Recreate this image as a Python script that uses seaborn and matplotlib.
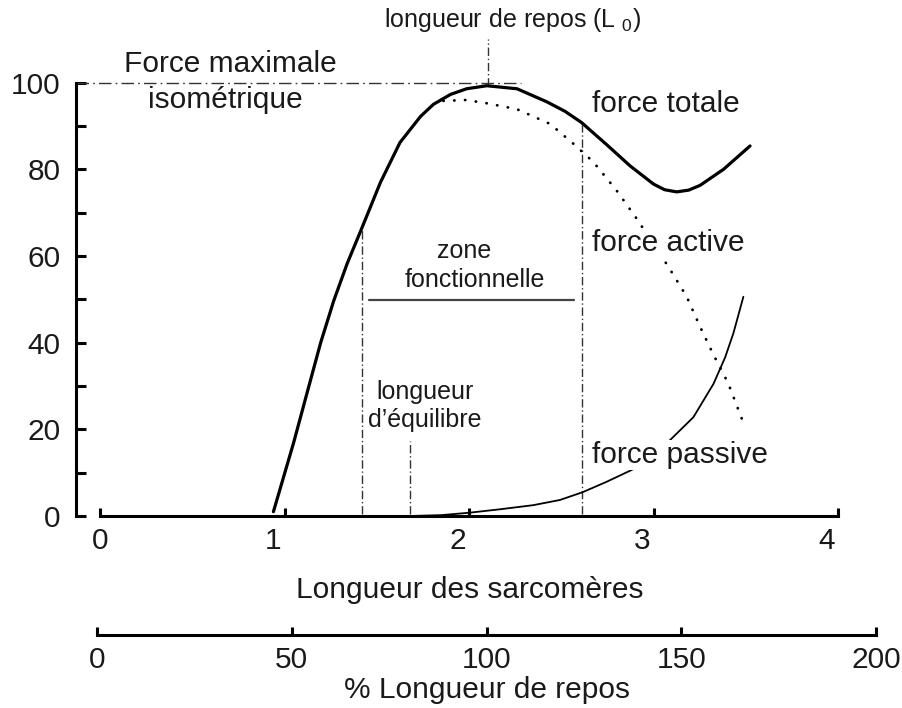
import matplotlib
matplotlib.use("Agg")
import matplotlib.pyplot as plt
import matplotlib.transforms as mtransforms
import seaborn as sns
import pandas as pd

# ---------------- data ----------------
tot_x = [0.94, 1.05, 1.126, 1.196, 1.267, 1.34, 1.413, 1.52, 1.626, 1.737, 1.807, 1.90,
         1.987, 2.096, 2.26, 2.421, 2.52, 2.61, 2.746, 2.873, 3.0, 3.06, 3.125, 3.19,
         3.252, 3.379, 3.523]
tot_y = [1.0, 17.0, 29.0, 40.0, 49.7, 58.3, 65.8, 77.0, 86.2, 92.2, 95.0, 97.3,
         98.6, 99.3, 98.6, 95.6, 93.4, 90.8, 85.7, 80.8, 76.6, 75.3, 74.8, 75.2,
         76.3, 80.0, 85.4]

act_x = [1.861, 1.98, 2.078, 2.259, 2.439, 2.566, 2.674, 2.80, 2.909, 3.081, 3.18,
         3.252, 3.325, 3.405, 3.478]
act_y = [95.8, 96.0, 95.4, 93.9, 90.5, 85.9, 81.7, 75.1, 68.6, 57.5, 50.6,
         43.7, 37.2, 30.6, 22.5]

pas_x = [1.68, 1.85, 2.00, 2.168, 2.348, 2.493, 2.616, 2.746, 2.90, 3.089, 3.216,
         3.325, 3.388, 3.433, 3.487]
pas_y = [0.0, 0.2, 0.75, 1.55, 2.5, 3.7, 5.5, 7.9, 11.0, 17.5, 22.8,
         30.5, 36.6, 42.2, 50.6]

# reference markers
lim_fonct_x = [1.42, 2.61]         # limits of the functional zone
lim_fonct_top = [66.0, 91.2]
equilibre_x = 1.68
equilibre_top = 17.3
repos_x = 2.105
repos_span = [99.3, 110.0]
force_max = 100
force_max_span = [-0.13, 2.28]
zone_span = [1.458, 2.569]
zone_y = 49.85

x_ticks = [0, 1, 2, 3, 4]
y_ticks = [0, 20, 40, 60, 80, 100]
y_minor = [10, 30, 50, 70, 90]
pct_ticks = [0, 50, 100, 150, 200]

# ---------------- style ----------------
sns.set_theme(style="white")
plt.rcParams["font.family"] = ["Liberation Sans", "DejaVu Sans"]
plt.rcParams["mathtext.fontset"] = "custom"
plt.rcParams["mathtext.rm"] = "Liberation Sans"
plt.rcParams["mathtext.it"] = "Liberation Sans"
TXT = "#1a1a1a"
BIG = 21.5
SMALL = 18

fig = plt.figure(figsize=(9.02, 7.08), dpi=100)
ax = fig.add_axes([76 / 902, 1 - 516 / 708, (893.4 - 76) / 902, (516 - 4.7) / 708])
ax.set_xlim(-0.130, 4.3)
ax.set_ylim(0, 118)
ax.patch.set_alpha(0)

df_tot = pd.DataFrame({"x": tot_x, "y": tot_y})
df_act = pd.DataFrame({"x": act_x, "y": act_y})
df_pas = pd.DataFrame({"x": pas_x, "y": pas_y})

sns.lineplot(data=df_pas, x="x", y="y", ax=ax, color="black", lw=1.3,
             estimator=None, zorder=2)
sns.lineplot(data=df_act, x="x", y="y", ax=ax, color="black", lw=2.0,
             linestyle=(0, (0.1, 3.8)), dash_capstyle="round",
             estimator=None, zorder=2)
sns.lineplot(data=df_tot, x="x", y="y", ax=ax, color="black", lw=2.3,
             estimator=None, zorder=3)

dd = dict(color="#333333", lw=1.0, linestyle=(0, (6, 2, 1, 2)), zorder=1)
for xv, top in zip(lim_fonct_x, lim_fonct_top):
    ax.plot([xv, xv], [0.5, top], **dd)
ax.plot([equilibre_x, equilibre_x], [0.5, equilibre_top], **dd)
ax.plot([repos_x, repos_x], repos_span, **dd)
ax.plot(force_max_span, [force_max, force_max], color="#333333", lw=1.0,
        linestyle=(0, (9, 3, 1.2, 3)), zorder=1, clip_on=False)
ax.plot(zone_span, [zone_y, zone_y], color="#444444", lw=1.6, zorder=2)

# ---------------- axes styling ----------------
for s in ["top", "right"]:
    ax.spines[s].set_visible(False)
for s in ["left", "bottom"]:
    ax.spines[s].set_linewidth(2.2)
    ax.spines[s].set_color("black")
ax.spines["left"].set_bounds(0, 100)
ax.spines["bottom"].set_bounds(0, 4)

ax.set_yticks(y_ticks)
ax.set_yticks(y_minor, minor=True)
ax.set_xticks(x_ticks)
ax.set_xticklabels([str(v) for v in x_ticks])
ax.tick_params(axis="y", which="both", direction="in", length=7, width=2.2,
               color="black", labelsize=BIG, labelcolor=TXT, pad=11, left=True)
ax.tick_params(axis="x", which="major", direction="in", length=6, width=2.2,
               color="black", labelsize=BIG, labelcolor=TXT, pad=8, bottom=True)
shift = mtransforms.ScaledTranslation(-0.11, 0, fig.dpi_scale_trans)
for lab in ax.get_xticklabels()[1:]:
    lab.set_transform(lab.get_transform() + shift)

ax.set_xlabel("Longueur des sarcomères", fontsize=BIG, color=TXT)
ax.set_ylabel("")
ax.xaxis.set_label_coords(0.482, -0.118)

# ---------------- annotations ----------------
bb = dict(facecolor="white", edgecolor="none", pad=0.5)
ax.text(2.238, 114.5, r"longueur de repos (L $_{0}$)", fontsize=SMALL, color=TXT,
        ha="center", va="center")
ax.text(0.705, 104.3, "Force maximale", fontsize=BIG, color=TXT, ha="center", va="center")
ax.text(0.678, 96.0, "isométrique", fontsize=BIG, color=TXT, ha="center", va="center")
ax.text(2.667, 95.1, "force totale", fontsize=BIG, color=TXT, ha="left", va="center", bbox=bb, zorder=5)
ax.text(2.667, 63.0, "force active", fontsize=BIG, color=TXT, ha="left", va="center", bbox=bb, zorder=5)
ax.text(2.667, 14.1, "force passive", fontsize=BIG, color=TXT, ha="left", va="center", bbox=bb, zorder=5)
ax.text(1.973, 61.2, "zone", fontsize=SMALL, color=TXT, ha="center", va="center")
ax.text(2.033, 54.5, "fonctionnelle", fontsize=SMALL, color=TXT, ha="center", va="center")
ax.text(1.762, 28.6, "longueur", fontsize=SMALL, color=TXT, ha="center", va="center")
ax.text(1.762, 22.2, "d’équilibre", fontsize=SMALL, color=TXT, ha="center", va="center")

# ---------------- secondary axis (% rest length) ----------------
ax2 = fig.add_axes([97 / 902, 1 - 635 / 708, (876 - 97) / 902, 0.001])
ax2.set_xlim(0, 200)
ax2.set_ylim(0, 1)
ax2.patch.set_alpha(0)
for s in ["top", "right", "left"]:
    ax2.spines[s].set_visible(False)
ax2.spines["bottom"].set_linewidth(2.2)
ax2.spines["bottom"].set_color("black")
ax2.set_yticks([])
ax2.set_xticks(pct_ticks)
ax2.set_xticklabels([str(v) for v in pct_ticks])
ax2.tick_params(axis="x", direction="in", length=6, width=2.2, color="black",
                labelsize=BIG, labelcolor=TXT, pad=8, bottom=True)
ax2.set_xlabel("% Longueur de repos", fontsize=BIG, color=TXT, labelpad=1)

fig.savefig("out.png", dpi=100)
